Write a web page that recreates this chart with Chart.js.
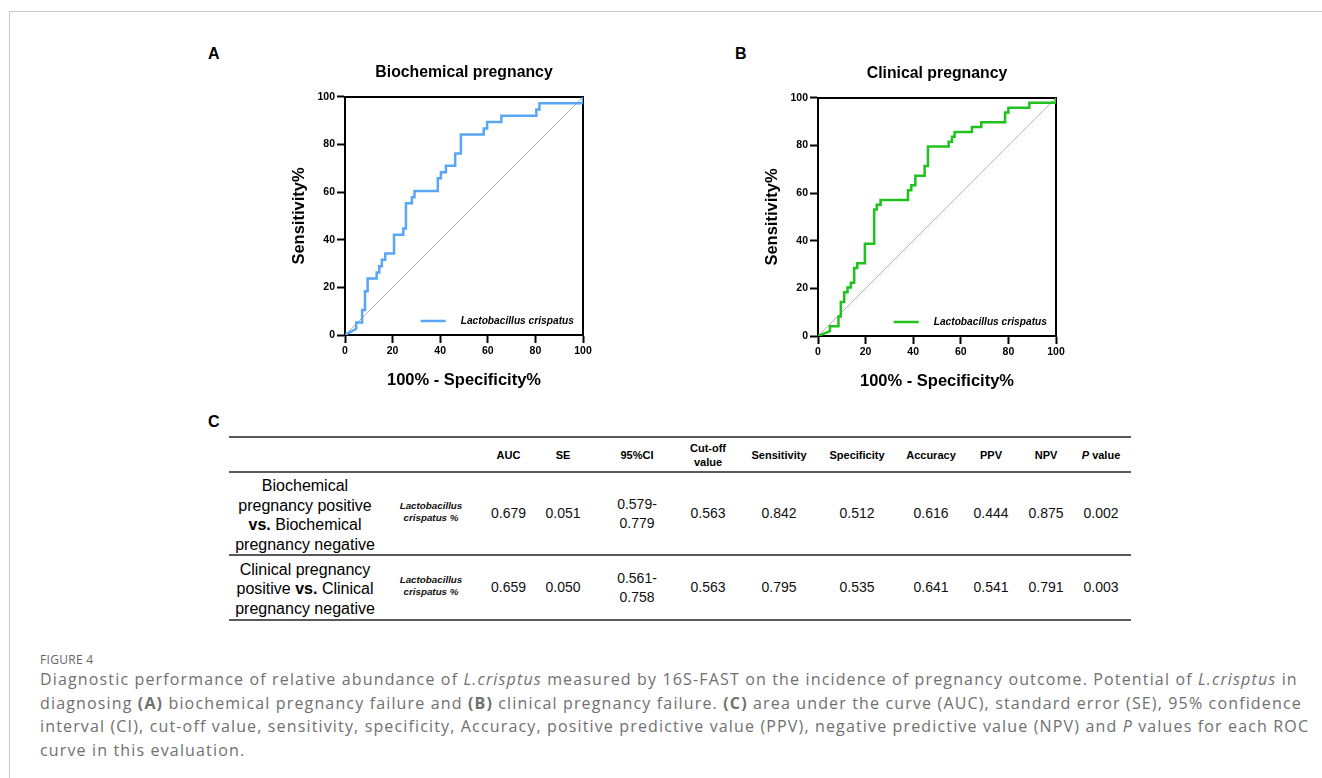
<!DOCTYPE html>
<html>
<head>
<meta charset="utf-8">
<script src="https://cdn.jsdelivr.net/npm/chart.js@4.4.1/dist/chart.umd.min.js"></script>
<style>
  body { margin: 0; background: #fff; width: 1322px; height: 778px; overflow: hidden; position: relative;
         font-family: "Liberation Sans", Arial, sans-serif; }
  .frame { position: absolute; left: 9px; top: 11px; right: 0; bottom: -5px; border-left: 1px solid #c8c8c8; border-top: 1px solid #c8c8c8; }
  .panel { position: absolute; font-weight: bold; font-size: 16px; color: #000; line-height: 18px; }
  canvas { position: absolute; }
  table { position: absolute; left: 229px; top: 436px; width: 902px; border-collapse: collapse; table-layout: fixed;
          border-top: 2px solid #5a5a5a; color: #111; }
  td, th { padding: 0; text-align: center; vertical-align: middle; }
  tr { border-bottom: 2px solid #5a5a5a; }
  th { font-size: 11px; font-weight: bold; line-height: 14px; color: #000; height: 33px; }
  td { font-size: 14px; line-height: 19px; }
  td.lab { font-size: 16px; line-height: 19.5px; color: #000; padding-top: 3px; }
  td.sp { font-size: 9.8px; font-weight: bold; font-style: italic; line-height: 12px; padding-bottom: 4px; }
  .c9 { padding-left: 13px; }
  .figlab { position: absolute; left: 40px; top: 651px; font-family: "Open Sans", sans-serif; font-size: 12px; color: #666; letter-spacing: 0.3px; }
  .cap { position: absolute; left: 40px; top: 668px; font-family: "Open Sans", sans-serif; font-size: 16px; line-height: 23.5px;
         letter-spacing: 1.15px; color: #707070; white-space: nowrap; }
</style>
</head>
<body>
<div class="frame"></div>
<div class="panel" style="left:208px;top:45px">A</div>
<div class="panel" style="left:735px;top:45px">B</div>
<div class="panel" style="left:208px;top:413px">C</div>

<canvas id="rocA" width="348" height="330" style="left:290px;top:60px"></canvas>
<canvas id="rocB" width="348" height="330" style="left:763px;top:61px"></canvas>

<table id="stats"></table>

<div class="figlab">FIGURE 4</div>
<div class="cap">Diagnostic performance of relative abundance of <i>L.crisptus</i> measured by 16S-FAST on the incidence of pregnancy outcome. Potential of <i>L.crisptus</i> in<br>diagnosing <b>(A)</b> biochemical pregnancy failure and <b>(B)</b> clinical pregnancy failure. <b>(C)</b> area under the curve (AUC), standard error (SE), 95% confidence<br>interval (CI), cut-off value, sensitivity, specificity, Accuracy, positive predictive value (PPV), negative predictive value (NPV) and <i>P</i> values for each ROC<br>curve in this evaluation.</div>

<script>
// ROC vertices (100% - specificity, sensitivity)
const fprA  = [0, 4.7, 4.7, 7.2, 7.2, 8.4, 8.4, 9.5, 9.5, 13.3, 13.3, 14.4, 14.4, 15.5, 15.5, 16.9, 16.9, 20.6, 20.6, 24.5, 24.5, 25.6, 25.6, 28.1, 28.1, 29.2, 29.2, 39.0, 39.0, 40.3, 40.3, 42.4, 42.4, 46.3, 46.3, 48.7, 48.7, 58.3, 58.3, 59.7, 59.7, 65.7, 65.7, 80.4, 80.4, 81.7, 81.7, 100, 100];
const sensA = [0, 2.6, 5.3, 5.3, 10.5, 10.5, 18.4, 18.4, 23.7, 23.7, 26.3, 26.3, 28.9, 28.9, 31.6, 31.6, 34.2, 34.2, 42.1, 42.1, 44.7, 44.7, 55.3, 55.3, 57.9, 57.9, 60.5, 60.5, 65.8, 65.8, 68.4, 68.4, 71.1, 71.1, 76.3, 76.3, 84.2, 84.2, 86.8, 86.8, 89.5, 89.5, 92.1, 92.1, 94.7, 94.7, 97.4, 97.4, 100];

const fprB  = [0, 5.0, 5.0, 8.6, 8.6, 9.6, 9.6, 11.0, 11.0, 12.4, 12.4, 13.8, 13.8, 15.2, 15.2, 16.5, 16.5, 19.7, 19.7, 23.6, 23.6, 24.7, 24.7, 26.3, 26.3, 37.8, 37.8, 39.2, 39.2, 40.9, 40.9, 44.8, 44.8, 46.2, 46.2, 54.9, 54.9, 56.3, 56.3, 57.4, 57.4, 64.7, 64.7, 68.6, 68.6, 78.6, 78.6, 80.0, 80.0, 88.8, 88.8, 100, 100];
const sensB = [0, 2.0, 4.1, 4.1, 8.2, 8.2, 14.3, 14.3, 18.4, 18.4, 20.4, 20.4, 22.4, 22.4, 28.6, 28.6, 30.6, 30.6, 38.8, 38.8, 53.1, 53.1, 55.1, 55.1, 57.1, 57.1, 61.2, 61.2, 63.3, 63.3, 67.3, 67.3, 71.4, 71.4, 79.6, 79.6, 81.6, 81.6, 83.7, 83.7, 85.7, 85.7, 87.8, 87.8, 89.8, 89.8, 93.9, 93.9, 95.9, 95.9, 98.0, 98.0, 100];

// chance line
const refX = [0, 100];
const refY = [0, 100];

// table C
const headers    = ['', '', 'AUC', 'SE', '95%CI', 'Cut-off<br>value', 'Sensitivity', 'Specificity', 'Accuracy', 'PPV', 'NPV', '<i>P</i> value'];
const rowLabels  = ['Biochemical<br>pregnancy positive<br><b>vs.</b> Biochemical<br>pregnancy negative',
                    'Clinical pregnancy<br>positive <b>vs.</b> Clinical<br>pregnancy negative'];
const species    = ['Lactobacillus<br>crispatus %', 'Lactobacillus<br>crispatus %'];
const aucVals    = ['0.679', '0.659'];
const seVals     = ['0.051', '0.050'];
const ciVals     = ['0.579-<br>0.779', '0.561-<br>0.758'];
const cutoffVals = ['0.563', '0.563'];
const sensVals   = ['0.842', '0.795'];
const specVals   = ['0.512', '0.535'];
const accVals    = ['0.616', '0.641'];
const ppvVals    = ['0.444', '0.541'];
const npvVals    = ['0.875', '0.791'];
const pVals      = ['0.002', '0.003'];

const colWidths = [152, 100, 55, 54, 94, 48, 94, 62, 73, 60, 50, 60];
const rowHeights = [83, 65];

const FONT = '"Liberation Sans", Arial, sans-serif';

// box frame (top and right edges), under the curve
const framePlugin = {
  id: 'frame',
  beforeDatasetsDraw(chart) {
    const a = chart.chartArea, c = chart.ctx;
    c.save();
    c.strokeStyle = '#000';
    c.lineWidth = 2;
    c.beginPath();
    c.moveTo(a.left - 1, a.top);
    c.lineTo(a.right, a.top);
    c.lineTo(a.right, a.bottom + 1);
    c.stroke();
    c.restore();
  }
};

// legend drawn inside the plot, bottom right
const keyPlugin = {
  id: 'key',
  afterDatasetsDraw(chart) {
    const a = chart.chartArea, c = chart.ctx, ds = chart.data.datasets[0];
    const x = a.left + 0.318 * (a.right - a.left);
    const y = a.bottom - 14;
    c.save();
    c.strokeStyle = ds.borderColor;
    c.lineWidth = 2.5;
    c.beginPath();
    c.moveTo(x, y);
    c.lineTo(x + 25, y);
    c.stroke();
    c.fillStyle = '#000';
    c.font = 'italic bold 10.2px ' + FONT;
    c.textBaseline = 'middle';
    c.fillText(ds.label, x + 40, y);
    c.restore();
  }
};

function makeRoc(id, title, xs, ys, color) {
  const axisTicks = { color: '#000', font: { family: FONT, size: 10.5, weight: 'bold' } };
  const axisGrid = { drawOnChartArea: false, drawTicks: true, tickLength: 8, tickWidth: 2, tickColor: '#000' };
  return new Chart(document.getElementById(id), {
    type: 'scatter',
    data: {
      datasets: [
        { label: 'Lactobacillus crispatus', data: xs.map((x, i) => ({ x: x, y: ys[i] })),
          showLine: true, borderColor: color, borderWidth: 2.5, pointRadius: 0, tension: 0, fill: false },
        { label: 'reference', data: refX.map((x, i) => ({ x: x, y: refY[i] })),
          showLine: true, borderColor: '#a3a3a3', borderWidth: 0.8, pointRadius: 0 }
      ]
    },
    options: {
      responsive: false,
      animation: false,
      layout: { padding: 0 },
      plugins: {
        legend: { display: false },
        tooltip: { enabled: false },
        title: { display: true, text: title, color: '#000',
                 font: { family: FONT, size: 15.8, weight: 'bold' }, padding: { top: 3, bottom: 15 } }
      },
      scales: {
        x: {
          type: 'linear', min: 0, max: 100,
          ticks: Object.assign({ stepSize: 20, padding: 2 }, axisTicks),
          grid: axisGrid,
          border: { color: '#000', width: 2 },
          title: { display: true, text: '100% - Specificity%', color: '#000',
                   font: { family: FONT, size: 16.5, weight: 'bold' }, padding: 0 },
          afterFit(s) { s.height = 55; }
        },
        y: {
          type: 'linear', min: 0, max: 100,
          ticks: Object.assign({ stepSize: 20, padding: 2 }, axisTicks),
          grid: axisGrid,
          border: { color: '#000', width: 2 },
          title: { display: true, text: 'Sensitivity%', color: '#000',
                   font: { family: FONT, size: 16.5, weight: 'bold' }, padding: 0 },
          afterFit(s) { s.width = 55; }
        },
        yR: {
          type: 'linear', position: 'right', display: true,
          ticks: { display: false }, grid: { display: false }, border: { display: false },
          afterFit(s) { s.width = 55; }
        }
      }
    },
    plugins: [framePlugin, keyPlugin]
  });
}

makeRoc('rocA', 'Biochemical pregnancy', fprA, sensA, '#5aa6f6');
makeRoc('rocB', 'Clinical pregnancy', fprB, sensB, '#1fc21f');

// build table C
const tbl = document.getElementById('stats');
let html = '<colgroup>' + colWidths.map(w => '<col style="width:' + w + 'px">').join('') + '</colgroup>';
html += '<tr>' + headers.map((h, i) => '<th' + (i === 8 ? ' class="c9"' : '') + '>' + h + '</th>').join('') + '</tr>';
rowLabels.forEach((lab, r) => {
  const vals = [aucVals[r], seVals[r], ciVals[r], cutoffVals[r], sensVals[r], specVals[r], accVals[r], ppvVals[r], npvVals[r], pVals[r]];
  html += '<tr style="height:' + rowHeights[r] + 'px"><td class="lab">' + lab + '</td><td class="sp">' + species[r] + '</td>' +
          vals.map((v, i) => '<td' + (i === 6 ? ' class="c9"' : '') + '>' + v + '</td>').join('') + '</tr>';
});
tbl.innerHTML = html;
</script>
</body>
</html>
